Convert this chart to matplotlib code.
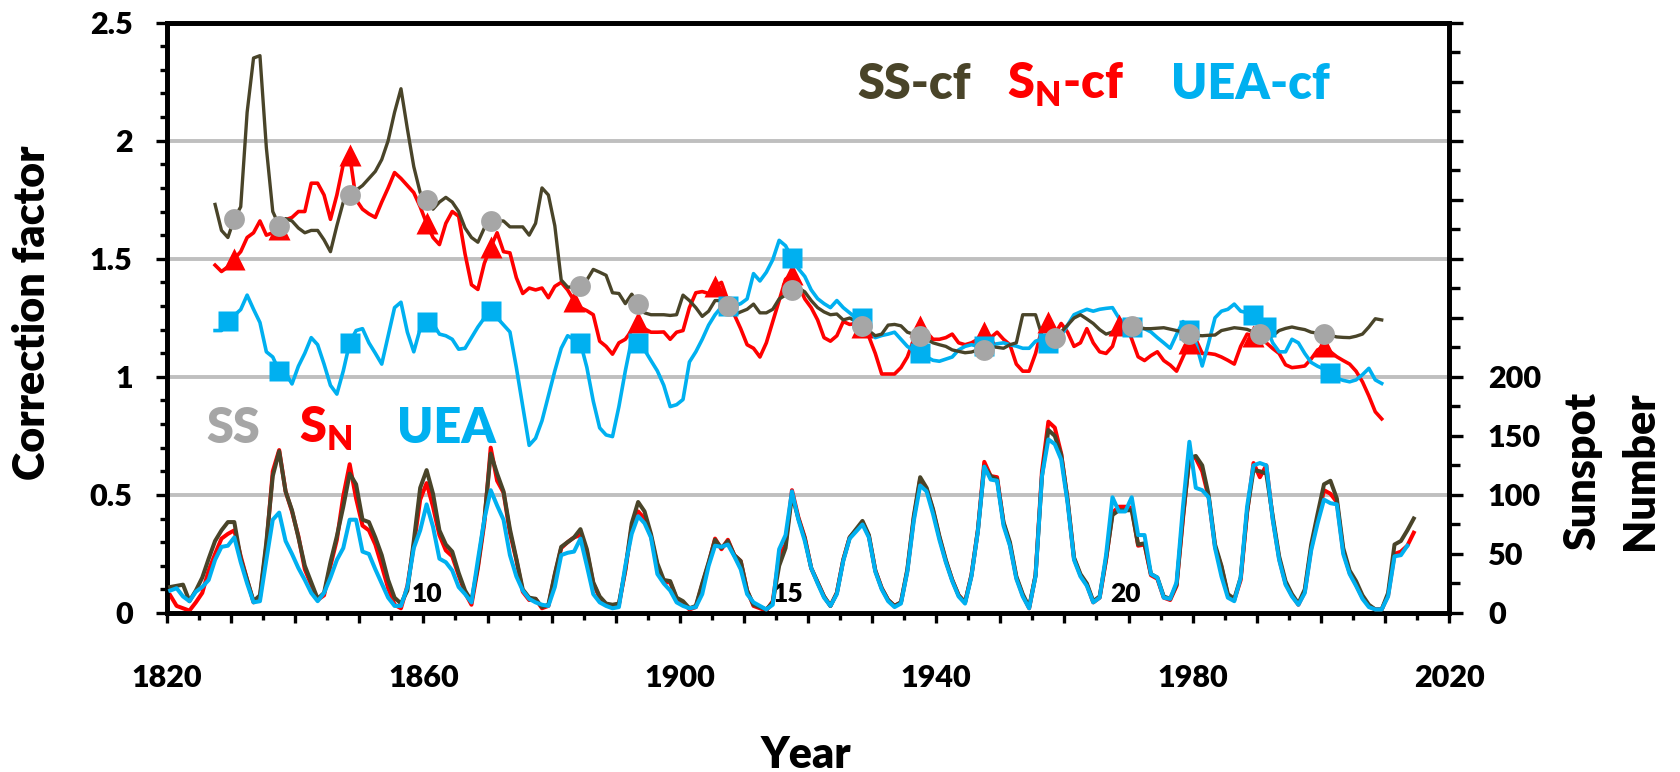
import matplotlib.pyplot as plt
from matplotlib.ticker import MultipleLocator, FuncFormatter

# Yearly sunspot numbers (right axis), 1820-2014 (UEA ends 2013)
sun_start = 1820
sn_sunspots = [
    15, 6, 4, 2, 9, 17, 36, 50, 63, 67,
    70, 48, 28, 9, 13, 57, 120, 138, 103, 86,
    65, 37, 24, 11, 15, 40, 62, 99, 126, 97,
    74, 70, 58, 40, 21, 7, 4, 23, 57, 96,
    110, 90, 66, 53, 48, 32, 17, 7, 38, 76,
    140, 112, 102, 68, 45, 18, 11, 12, 4, 6,
    32, 55, 60, 64, 66, 52, 25, 13, 7, 6,
    7, 36, 73, 86, 80, 65, 40, 26, 26, 12,
    9, 3, 5, 24, 42, 63, 54, 62, 49, 44,
    19, 6, 4, 2, 10, 48, 58, 104, 81, 64,
    38, 26, 14, 6, 17, 45, 64, 70, 77, 65,
    36, 21, 11, 6, 9, 36, 80, 113, 105, 87,
    64, 44, 28, 15, 9, 32, 70, 128, 116, 115,
    76, 58, 30, 15, 4, 32, 120, 162, 157, 135,
    95, 46, 32, 24, 9, 13, 45, 85, 90, 90,
    89, 57, 58, 32, 29, 13, 11, 23, 80, 133,
    131, 120, 98, 56, 39, 15, 11, 28, 85, 127,
    115, 125, 80, 46, 25, 15, 7, 18, 55, 80,
    104, 101, 94, 52, 34, 24, 13, 6, 3, 3,
    15, 50, 52, 57, 68]
ss_sunspots = [
    22, 23, 24, 10, 19, 30, 46, 61, 70, 77,
    77, 46, 28, 10, 15, 60, 116, 137, 103, 87,
    64, 40, 26, 12, 17, 43, 65, 90, 118, 109,
    79, 77, 64, 49, 28, 13, 8, 19, 61, 106,
    121, 101, 70, 58, 52, 34, 19, 10, 40, 79,
    135, 118, 103, 71, 46, 20, 13, 12, 5, 7,
    33, 56, 60, 64, 71, 54, 26, 14, 8, 7,
    8, 37, 76, 94, 86, 67, 42, 28, 27, 13,
    10, 4, 6, 25, 43, 62, 55, 61, 49, 44,
    19, 7, 5, 3, 9, 40, 55, 100, 80, 63,
    38, 26, 14, 6, 17, 45, 64, 71, 78, 66,
    36, 21, 11, 6, 9, 37, 82, 115, 106, 88,
    65, 45, 28, 15, 9, 32, 70, 124, 116, 113,
    77, 60, 31, 16, 5, 32, 116, 155, 150, 134,
    96, 47, 33, 25, 10, 14, 46, 83, 87, 87,
    87, 58, 59, 33, 30, 14, 12, 24, 82, 131,
    133, 125, 100, 58, 40, 16, 12, 30, 86, 121,
    120, 118, 82, 48, 27, 16, 8, 20, 58, 84,
    109, 112, 97, 55, 36, 27, 15, 7, 3, 3,
    17, 58, 61, 70, 80]
uea_sunspots = [
    19, 21, 14, 10, 18, 22, 28, 45, 56, 57,
    64, 43, 25, 9, 10, 45, 79, 85, 61, 50,
    38, 28, 17, 10, 17, 30, 45, 55, 79, 79,
    52, 50, 37, 25, 13, 6, 6, 22, 55, 70,
    92, 73, 46, 43, 36, 22, 16, 9, 45, 79,
    104, 91, 79, 49, 31, 19, 12, 9, 7, 6,
    22, 49, 51, 52, 63, 40, 16, 9, 6, 4,
    5, 40, 67, 82, 76, 64, 33, 25, 19, 9,
    6, 4, 5, 16, 40, 57, 56, 58, 48, 37,
    16, 9, 6, 3, 7, 54, 66, 103, 79, 61,
    38, 25, 13, 6, 16, 44, 63, 69, 75, 64,
    35, 20, 10, 5, 8, 35, 78, 108, 103, 84,
    62, 43, 27, 14, 8, 31, 69, 124, 113, 112,
    74, 57, 29, 14, 4, 31, 116, 147, 143, 130,
    93, 45, 31, 23, 9, 13, 49, 98, 86, 86,
    98, 66, 66, 33, 30, 13, 12, 26, 90, 145,
    106, 104, 98, 55, 31, 13, 10, 30, 90, 125,
    127, 125, 79, 45, 24, 14, 7, 17, 53, 76,
    96, 93, 92, 50, 33, 23, 12, 5, 3, 3,
    14, 48, 49, 57]

# Correction factors (left axis), 1827-2009
cf_start = 1827
ss_cf = [
    1.73, 1.62, 1.59,
    1.67, 1.72, 2.12, 2.35, 2.36, 1.97, 1.70, 1.64, 1.67, 1.66,
    1.63, 1.61, 1.62, 1.62, 1.58, 1.53, 1.64, 1.74, 1.77, 1.79,
    1.81, 1.84, 1.87, 1.92, 2.00, 2.12, 2.22, 2.05, 1.89, 1.78,
    1.75, 1.71, 1.74, 1.76, 1.74, 1.70, 1.63, 1.59, 1.57, 1.63,
    1.66, 1.66, 1.66, 1.635, 1.635, 1.635, 1.60, 1.65, 1.80, 1.77,
    1.64, 1.41, 1.38, 1.38, 1.385, 1.41, 1.455, 1.443, 1.43, 1.356,
    1.353, 1.31, 1.35, 1.31, 1.271, 1.263, 1.263, 1.263, 1.26, 1.263,
    1.346, 1.323, 1.293, 1.256, 1.278, 1.323, 1.323, 1.30, 1.263, 1.275,
    1.286, 1.308, 1.271, 1.271, 1.286, 1.33, 1.346, 1.368, 1.376, 1.36,
    1.323, 1.293, 1.275, 1.263, 1.266, 1.241, 1.249, 1.235, 1.216, 1.195,
    1.174, 1.181, 1.219, 1.222, 1.216, 1.189, 1.18, 1.174, 1.16, 1.144,
    1.136, 1.129, 1.114, 1.108, 1.102, 1.105, 1.114, 1.114, 1.129, 1.125,
    1.121, 1.136, 1.144, 1.263, 1.263, 1.263, 1.174, 1.159, 1.166, 1.19,
    1.219, 1.249, 1.263, 1.245, 1.226, 1.20, 1.181, 1.19, 1.196, 1.205,
    1.215, 1.21, 1.204, 1.204, 1.206, 1.208, 1.202, 1.196, 1.19, 1.181,
    1.176, 1.174, 1.176, 1.177, 1.196, 1.202, 1.208, 1.205, 1.201, 1.19,
    1.181, 1.178, 1.174, 1.196, 1.205, 1.211, 1.205, 1.20, 1.189, 1.185,
    1.181, 1.175, 1.169, 1.167, 1.166, 1.172, 1.181, 1.211, 1.246, 1.241]
sn_cf = [
    1.473, 1.446, 1.466,
    1.50, 1.53, 1.59, 1.61, 1.66, 1.60, 1.61, 1.625, 1.665, 1.675,
    1.70, 1.70, 1.82, 1.82, 1.77, 1.667, 1.77, 1.90, 1.94, 1.75,
    1.71, 1.69, 1.675, 1.74, 1.80, 1.865, 1.84, 1.81, 1.78, 1.72,
    1.65, 1.59, 1.56, 1.65, 1.70, 1.68, 1.52, 1.39, 1.37, 1.48,
    1.55, 1.61, 1.53, 1.525, 1.42, 1.353, 1.376, 1.368, 1.376, 1.335,
    1.383, 1.40, 1.368, 1.323, 1.293, 1.28, 1.263, 1.151, 1.129, 1.096,
    1.144, 1.159, 1.196, 1.234, 1.204, 1.189, 1.189, 1.19, 1.159, 1.189,
    1.196, 1.293, 1.356, 1.361, 1.353, 1.383, 1.40, 1.323, 1.263, 1.204,
    1.136, 1.121, 1.084, 1.144, 1.234, 1.323, 1.413, 1.436, 1.39, 1.33,
    1.293, 1.241, 1.166, 1.151, 1.174, 1.234, 1.222, 1.226, 1.21, 1.17,
    1.099, 1.012, 1.012, 1.012, 1.039, 1.084, 1.159, 1.216, 1.189, 1.159,
    1.159, 1.166, 1.181, 1.144, 1.136, 1.144, 1.159, 1.189, 1.166, 1.189,
    1.159, 1.136, 1.054, 1.024, 1.024, 1.099, 1.204, 1.234, 1.181, 1.226,
    1.189, 1.129, 1.144, 1.204, 1.144, 1.106, 1.099, 1.129, 1.219, 1.226,
    1.16, 1.085, 1.069, 1.09, 1.106, 1.069, 1.05, 1.024, 1.084, 1.144,
    1.159, 1.099, 1.099, 1.095, 1.084, 1.07, 1.054, 1.129, 1.181, 1.174,
    1.16, 1.144, 1.12, 1.099, 1.051, 1.039, 1.042, 1.046, 1.076, 1.114,
    1.129, 1.106, 1.085, 1.069, 1.054, 1.024, 0.979, 0.919, 0.852, 0.822]
uea_cf = [
    1.196, 1.196, 1.235,
    1.26, 1.285, 1.346, 1.286, 1.23, 1.106, 1.084, 1.024, 1.016, 0.97,
    1.045, 1.10, 1.166, 1.136, 1.054, 0.964, 0.927, 1.025, 1.144, 1.196,
    1.204, 1.144, 1.10, 1.054, 1.174, 1.293, 1.316, 1.189, 1.106, 1.204,
    1.234, 1.226, 1.181, 1.174, 1.159, 1.117, 1.121, 1.166, 1.211, 1.249,
    1.278, 1.25, 1.22, 1.19, 1.04, 0.874, 0.71, 0.74, 0.814, 0.919,
    1.025, 1.121, 1.174, 1.159, 1.144, 1.04, 0.897, 0.784, 0.754, 0.747,
    0.874, 1.025, 1.159, 1.144, 1.114, 1.069, 1.025, 0.964, 0.874, 0.882,
    0.904, 1.063, 1.106, 1.159, 1.219, 1.263, 1.296, 1.30, 1.30, 1.31,
    1.33, 1.437, 1.406, 1.443, 1.496, 1.578, 1.555, 1.503, 1.458, 1.425,
    1.368, 1.331, 1.31, 1.293, 1.323, 1.293, 1.271, 1.249, 1.249, 1.189,
    1.166, 1.175, 1.181, 1.189, 1.159, 1.129, 1.11, 1.099, 1.084, 1.07,
    1.066, 1.075, 1.084, 1.114, 1.129, 1.136, 1.13, 1.129, 1.136, 1.14,
    1.144, 1.136, 1.13, 1.121, 1.121, 1.151, 1.159, 1.144, 1.16, 1.174,
    1.219, 1.263, 1.275, 1.286, 1.278, 1.286, 1.29, 1.293, 1.249, 1.22,
    1.21, 1.204, 1.204, 1.19, 1.166, 1.144, 1.121, 1.18, 1.234, 1.20,
    1.144, 1.046, 1.144, 1.25, 1.278, 1.286, 1.308, 1.278, 1.272, 1.262,
    1.24, 1.21, 1.144, 1.106, 1.106, 1.159, 1.144, 1.099, 1.061, 1.045,
    1.033, 1.016, 0.994, 0.985, 0.979, 0.987, 1.009, 1.036, 0.987, 0.972]

# Years of cycle maxima where the markers sit
ss_marker_years = [1830, 1837, 1848, 1860, 1870, 1884, 1893, 1907, 1917,
                   1928, 1937, 1947, 1958, 1970, 1979, 1990, 2000]
sn_marker_years = [1830, 1837, 1848, 1860, 1870, 1883, 1893, 1905, 1917,
                   1928, 1937, 1947, 1957, 1968, 1979, 1989, 2000]
uea_marker_years = [1829, 1837, 1848, 1860, 1870, 1884, 1893, 1907, 1917,
                    1928, 1937, 1947, 1957, 1970, 1979, 1989, 1991, 2001]

cycle_labels = ['10', '15', '20']
cycle_label_years = [1860.6, 1916.9, 1969.5]

DARK = '#494429'
RED = '#FF0000'
BLUE = '#00B0F0'
GREY = '#A6A6A6'

plt.rcParams['font.family'] = ['Lato', 'DejaVu Sans']
plt.rcParams['font.weight'] = 'heavy'
plt.rcParams['mathtext.fontset'] = 'custom'
plt.rcParams['mathtext.rm'] = 'Lato'
plt.rcParams['mathtext.bf'] = 'Lato:heavy'


def mid_years(start, values):
    """Annual values are drawn at mid-year"""
    return [start + i + 0.5 for i in range(len(values))]


def marker_points(start, values, years):
    return [y + 0.5 for y in years], [values[y - start] for y in years]


W, H = 1680, 772
fig = plt.figure(figsize=(W / 100, H / 100), dpi=100)
ax = fig.add_axes([167 / W, 1 - 613 / H, (1449 - 167) / W, (613 - 22.6) / H])
ax2 = ax.twinx()

# Gridlines
for g in [0.5, 1.0, 1.5, 2.0]:
    ax.axhline(g, color='#BFBFBF', lw=2.8, zorder=0)

# Correction factor lines
ax.plot(mid_years(cf_start, sn_cf), sn_cf, color=RED, lw=2.6, zorder=2)
ax.plot(mid_years(cf_start, uea_cf), uea_cf, color=BLUE, lw=2.6, zorder=2)
ax.plot(mid_years(cf_start, ss_cf), ss_cf, color=DARK, lw=2.4, zorder=3)

mx, my = marker_points(cf_start, sn_cf, sn_marker_years)
ax.plot(mx, my, ls='none', marker='^', ms=16, color=RED, mec='none', zorder=4)
mx, my = marker_points(cf_start, uea_cf, uea_marker_years)
ax.plot(mx, my, ls='none', marker='s', ms=14, color=BLUE, mec='none', zorder=5)
mx, my = marker_points(cf_start, ss_cf, ss_marker_years)
ax.plot(mx, my, ls='none', marker='o', ms=15, color=GREY, mec='none', zorder=6)

# Sunspot numbers
ax2.plot(mid_years(sun_start, sn_sunspots), sn_sunspots, color=RED, lw=2.9, zorder=2)
ax2.plot(mid_years(sun_start, ss_sunspots), ss_sunspots, color=DARK, lw=2.9, zorder=3)
ax2.plot(mid_years(sun_start, uea_sunspots), uea_sunspots, color=BLUE, lw=2.9, zorder=4)

ax.set_xlim(1820, 2020)
ax.set_ylim(0, 2.5)
ax2.set_ylim(0, 500)

for a in (ax, ax2):
    for s in a.spines.values():
        s.set_linewidth(3.4)
        s.set_color('black')

ax.xaxis.set_major_locator(MultipleLocator(10))
ax.xaxis.set_minor_locator(MultipleLocator(5))
ax.xaxis.set_major_formatter(FuncFormatter(
    lambda x, pos: f'{int(round(x))}' if round(x - 1820) % 40 == 0 else ''))
ax.yaxis.set_major_locator(MultipleLocator(0.5))
ax.yaxis.set_minor_locator(MultipleLocator(0.1))
ax.yaxis.set_major_formatter(FuncFormatter(lambda v, pos: f'{v:g}'))
ax2.yaxis.set_major_locator(MultipleLocator(50))
ax2.yaxis.set_minor_locator(MultipleLocator(25))
ax2.yaxis.set_major_formatter(FuncFormatter(
    lambda v, pos: f'{int(v)}' if v <= 200 else ''))

ax.tick_params(axis='x', which='major', direction='out', length=7, width=2.4,
               labelsize=22, pad=30, top=False)
ax.tick_params(axis='x', which='minor', direction='out', length=5, width=2.4, top=False)
ax.tick_params(axis='y', which='major', direction='out', length=7.7, width=2.4,
               labelsize=22, pad=17, right=False)
ax.tick_params(axis='y', which='minor', direction='out', length=5, width=2.4, right=False)
ax2.tick_params(axis='y', which='major', direction='out', length=10, width=2.4,
                labelsize=22, pad=18)
ax2.tick_params(axis='y', which='minor', direction='out', length=8, width=2.4)

# Series names
ax.text(1936.6, 2.175, 'SS-cf', color=DARK, fontsize=35, ha='center', va='baseline')
ax.text(1960.2, 2.175, r'$\mathbf{S}_\mathbf{N}$-cf', color=RED, fontsize=35,
        ha='center', va='baseline')
ax.text(1989.0, 2.175, 'UEA-cf', color=BLUE, fontsize=35, ha='center', va='baseline')
ax.text(1830.3, 0.72, 'SS', color=GREY, fontsize=35, ha='center', va='baseline')
ax.text(1844.7, 0.72, r'$\mathbf{S}_\mathbf{N}$', color=RED, fontsize=35,
        ha='center', va='baseline')
ax.text(1863.6, 0.72, 'UEA', color=BLUE, fontsize=35, ha='center', va='baseline')

for lab, yr in zip(cycle_labels, cycle_label_years):
    ax.text(yr, 0.047, lab, fontsize=19, ha='center', va='baseline', zorder=7)

# Axis titles
fig.text(806 / W, 1 - 755 / H, 'Year', fontsize=31, ha='center', va='center')
fig.text(32 / W, 1 - 313 / H, 'Correction factor', fontsize=31, rotation=90,
         ha='center', va='center')
fig.text(1582 / W, 1 - 471 / H, 'Sunspot', fontsize=31, rotation=90,
         ha='center', va='center')
fig.text(1640 / W, 1 - 471 / H, 'Number', fontsize=31, rotation=90,
         ha='center', va='center')

fig.savefig('out.png', dpi=100)
